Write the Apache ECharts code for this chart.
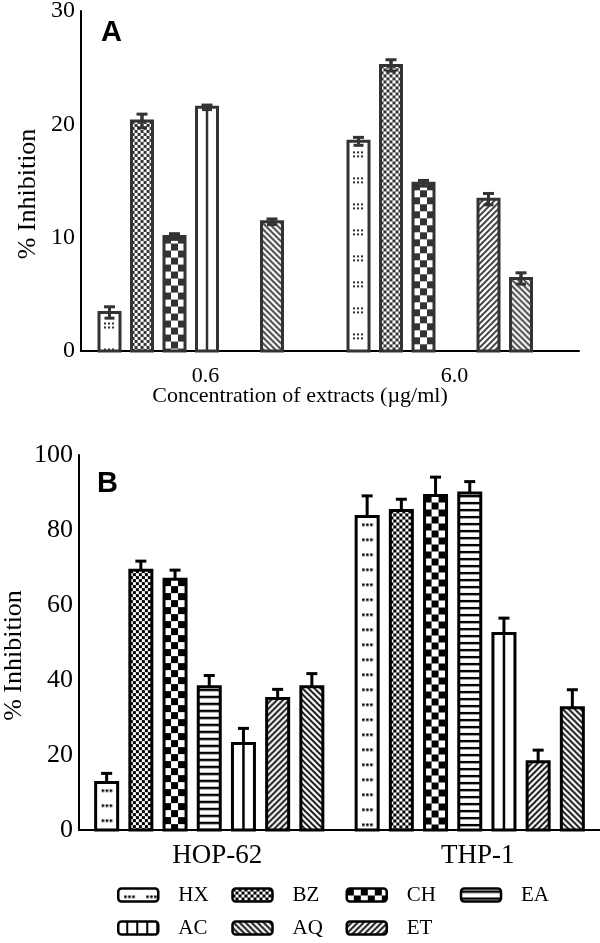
<!DOCTYPE html>
<html>
<head>
<meta charset="utf-8">
<script src="https://cdn.jsdelivr.net/npm/echarts@6/dist/echarts.min.js"></script>
<style>
html,body{margin:0;padding:0;background:#fff;}
#chart{width:600px;height:943px;}
</style>
</head>
<body>
<div id="chart"></div>
<script>
// ---------------- DATA ----------------
// Panel A: concentration of extracts
const catsA = ['0.6', '6.0'];
const hxA = [3.4, 18.5],   hxAErr = [0.5, 0.35];
const bzA = [20.3, 25.2],  bzAErr = [0.6, 0.5];
const chA = [10.1, 14.8],  chAErr = [0.25, 0.25];
const s4A = [21.5, null],  s4AErr = [0.2, null];   // open bar with centre line
const s5A = [null, 13.4],  s5AErr = [null, 0.5];   // "////"
const s6A = [11.4, 6.4],   s6AErr = [0.25, 0.5];   // "\\\\"
const yTicksA = [0, 10, 20, 30];

// Panel B: cell lines
const catsB = ['HOP-62', 'THP-1'];
const hxB = [12.7, 83.6], hxBErr = [2.4, 5.5];
const bzB = [69.3, 85.2], bzBErr = [2.4, 3.0];
const chB = [66.9, 89.2], chBErr = [2.4, 4.9];
const eaB = [38.2, 89.9], eaBErr = [3.0, 3.0];
const acB = [23.1, 52.4], acBErr = [4.0, 4.1];
const etB = [35.1, 18.2], etBErr = [2.4, 3.1];
const aqB = [38.2, 32.6], aqBErr = [3.5, 4.8];
const yTicksB = [0, 20, 40, 60, 80, 100];

const legendRow1 = ['HX', 'BZ', 'CH', 'EA'];
const legendRow2 = ['AC', 'AQ', 'ET'];

// ---------------- PATTERNS ----------------
function tile(w, h, draw) {
  const c = document.createElement('canvas');
  c.width = w; c.height = h;
  const g = c.getContext('2d');
  g.fillStyle = '#fff'; g.fillRect(0, 0, w, h);
  draw(g, w, h);
  return { image: c, repeat: 'repeat' };
}
function dotsA(col) { return tile(21, 26, (g) => { g.fillStyle = col; [[5,10],[9,10],[5,14],[9,14],[13,10],[13,14]].forEach(p => g.fillRect(p[0], p[1], 2, 2)); }); }
function dotsB(col) { return tile(22, 15, (g) => { g.fillStyle = col; [6, 10, 14].forEach(x => g.fillRect(x, 7, 2.5, 2.5)); }); }
function fineCheck(col) { return tile(6, 6, (g) => { g.fillStyle = col; g.fillRect(0,0,3,3); g.fillRect(3,3,3,3); }); }
function bigCheck(col) { return tile(14, 14, (g) => { g.fillStyle = col; g.fillRect(0,0,7,7); g.fillRect(7,7,7,7); }); }
function hLines(col) { return tile(4, 7, (g) => { g.fillStyle = col; g.fillRect(0, 2, 4, 2.4); }); }
function vLines(col) { return tile(10, 4, (g) => { g.fillStyle = col; g.fillRect(8, 0, 2.5, 4); }); }
function diagDown(col) { return tile(6, 6, (g, s) => { g.strokeStyle = col; g.lineWidth = 1.9; g.beginPath();
  g.moveTo(-1,-1); g.lineTo(s+1,s+1); g.moveTo(-1,s-1); g.lineTo(1,s+1); g.moveTo(s-1,-1); g.lineTo(s+1,1); g.stroke(); }); }
function diagUp(col) { return tile(6, 6, (g, s) => { g.strokeStyle = col; g.lineWidth = 1.9; g.beginPath();
  g.moveTo(-1,s+1); g.lineTo(s+1,-1); g.moveTo(-1,1); g.lineTo(1,-1); g.moveTo(s-1,s+1); g.lineTo(s+1,s-1); g.stroke(); }); }

const CA = '#333333', CB = '#000000';
const FONT = '"Liberation Serif", "Times New Roman", serif';

// ---------------- SERIES BUILDER ----------------
function makeSeries(opt) {
  const data = [];
  opt.vals.forEach((v, i) => { if (v != null) data.push([i, v, opt.errs[i]]); });
  return {
    type: 'custom', name: opt.name,
    xAxisIndex: opt.axis, yAxisIndex: opt.axis,
    itemStyle: { color: opt.legendFill || opt.fill },
    encode: { x: 0, y: 1 },
    data: data,
    renderItem: function (params, api) {
      const ci = api.value(0), v = api.value(1), e = api.value(2);
      const p0 = api.coord([ci, 0]);
      const p1 = api.coord([ci, v]);
      const pe = api.coord([ci, v + e]);
      const cx = p0[0] + (opt.slot - 3) * opt.sp + (opt.off || 0);
      const bw = opt.bw;
      const kids = [];
      kids.push({ type: 'line', shape: { x1: cx, y1: p1[1], x2: cx, y2: pe[1] }, style: { stroke: opt.col, lineWidth: 3 } });
      kids.push({ type: 'rect', x: cx - bw / 2, y: p1[1],
        shape: { x: 0, y: 0, width: bw, height: p0[1] - p1[1] },
        style: { fill: opt.fill, stroke: opt.col, lineWidth: 3 } });
      if (opt.centreLine) {
        kids.push({ type: 'line', shape: { x1: cx, y1: p1[1], x2: cx, y2: p0[1] }, style: { stroke: opt.col, lineWidth: 2.5 } });
      }
      if (opt.twoSided) {
        const pl = api.coord([ci, v - e]);
        kids.push({ type: 'line', shape: { x1: cx, y1: pl[1], x2: cx, y2: pe[1] }, style: { stroke: opt.col, lineWidth: 3 } });
        kids.push({ type: 'line', shape: { x1: cx - 5, y1: pl[1], x2: cx + 5, y2: pl[1] }, style: { stroke: opt.col, lineWidth: 3 } });
      }
      kids.push({ type: 'line', shape: { x1: cx - 5.5, y1: pe[1], x2: cx + 5.5, y2: pe[1] }, style: { stroke: opt.col, lineWidth: 3 } });
      return { type: 'group', children: kids };
    }
  };
}

const A = { axis: 0, sp: 32.5, bw: 21, col: CA, off: 1.5, twoSided: true };
const B = { axis: 1, sp: 34.2, bw: 22, col: CB, off: 0 };

const series = [
  makeSeries(Object.assign({}, B, { name: 'HX', slot: 0, vals: hxB, errs: hxBErr, fill: dotsB(CB) })),
  makeSeries(Object.assign({}, B, { name: 'BZ', slot: 1, vals: bzB, errs: bzBErr, fill: fineCheck(CB) })),
  makeSeries(Object.assign({}, B, { name: 'CH', slot: 2, vals: chB, errs: chBErr, fill: bigCheck(CB) })),
  makeSeries(Object.assign({}, B, { name: 'EA', slot: 3, vals: eaB, errs: eaBErr, fill: hLines(CB) })),
  makeSeries(Object.assign({}, B, { name: 'AC', slot: 4, vals: acB, errs: acBErr, fill: '#fff', legendFill: vLines(CB), centreLine: true })),
  makeSeries(Object.assign({}, B, { name: 'ET', slot: 5, vals: etB, errs: etBErr, fill: diagUp(CB) })),
  makeSeries(Object.assign({}, B, { name: 'AQ', slot: 6, vals: aqB, errs: aqBErr, fill: diagDown(CB) })),

  makeSeries(Object.assign({}, A, { name: 'A-HX', slot: 0, vals: hxA, errs: hxAErr, fill: dotsA(CA) })),
  makeSeries(Object.assign({}, A, { name: 'A-BZ', slot: 1, vals: bzA, errs: bzAErr, fill: fineCheck(CA) })),
  makeSeries(Object.assign({}, A, { name: 'A-CH', slot: 2, vals: chA, errs: chAErr, fill: bigCheck(CA) })),
  makeSeries(Object.assign({}, A, { name: 'A-4', slot: 3, vals: s4A, errs: s4AErr, fill: '#fff', centreLine: true })),
  makeSeries(Object.assign({}, A, { name: 'A-5', slot: 4, vals: s5A, errs: s5AErr, fill: diagUp(CA) })),
  makeSeries(Object.assign({}, A, { name: 'A-6', slot: 5, vals: s6A, errs: s6AErr, fill: diagDown(CA) }))
];

const axisLine = { show: true, lineStyle: { color: '#000', width: 2 } };

function legendCfg(names, top) {
  return {
    data: names, left: 112, top: top, orient: 'horizontal',
    icon: 'roundRect', itemWidth: 40, itemHeight: 13, itemGap: 21,
    selectedMode: false,
    itemStyle: { borderColor: '#000', borderWidth: 2.5 },
    textStyle: { fontFamily: FONT, fontSize: 21, color: '#000', width: 32, padding: [0, 0, 0, 15], lineHeight: 22 }
  };
}

const option = {
  animation: false,
  backgroundColor: '#fff',
  grid: [
    { left: 81, top: 11, width: 498, height: 340, containLabel: false, outerBoundsMode: 'none' },
    { left: 79, top: 455, right: 0, height: 375, containLabel: false, outerBoundsMode: 'none' }
  ],
  xAxis: [
    { type: 'category', gridIndex: 0, data: catsA, axisLine: axisLine, axisTick: { show: false },
      axisLabel: { fontFamily: FONT, fontSize: 22, color: '#000', margin: 14 },
      name: 'Concentration of extracts (µg/ml)', nameLocation: 'middle', nameGap: 34, nameMoveOverlap: false,
      nameTextStyle: { fontFamily: FONT, fontSize: 22, color: '#000', padding: [0, 60, 0, 0] } },
    { type: 'category', gridIndex: 1, data: catsB, axisLine: axisLine, axisTick: { show: false },
      axisLabel: { fontFamily: FONT, fontSize: 27, color: '#000', margin: 12, padding: [0, 0, 0, 16] } }
  ],
  yAxis: [
    { type: 'value', gridIndex: 0, min: yTicksA[0], max: yTicksA[yTicksA.length - 1], interval: 10,
      axisLine: axisLine, axisTick: { show: false }, splitLine: { show: false },
      axisLabel: { fontFamily: FONT, fontSize: 24, color: '#000', margin: 6 },
      name: '% Inhibition', nameLocation: 'middle', nameGap: 40, nameMoveOverlap: false,
      nameTextStyle: { fontFamily: FONT, fontSize: 26, color: '#000', padding: [0, 26, 0, 0] } },
    { type: 'value', gridIndex: 1, min: yTicksB[0], max: yTicksB[yTicksB.length - 1], interval: 20,
      axisLine: axisLine, axisTick: { show: false }, splitLine: { show: false },
      axisLabel: { fontFamily: FONT, fontSize: 26, color: '#000', margin: 6 },
      name: '% Inhibition', nameLocation: 'middle', nameGap: 52, nameMoveOverlap: false,
      nameTextStyle: { fontFamily: FONT, fontSize: 26, color: '#000', padding: [0, 26, 0, 0] } }
  ],
  legend: [legendCfg(legendRow1, 879), legendCfg(legendRow2, 912)],
  graphic: [
    { type: 'text', left: 101, top: 18, style: { text: 'A', font: 'bold 29px "Liberation Sans", Arial, sans-serif', fill: '#000' } },
    { type: 'text', left: 97, top: 469, style: { text: 'B', font: 'bold 29px "Liberation Sans", Arial, sans-serif', fill: '#000' } }
  ],
  series: series
};

const chart = echarts.init(document.getElementById('chart'), null, { renderer: 'canvas' });
chart.setOption(option);
</script>
</body>
</html>
